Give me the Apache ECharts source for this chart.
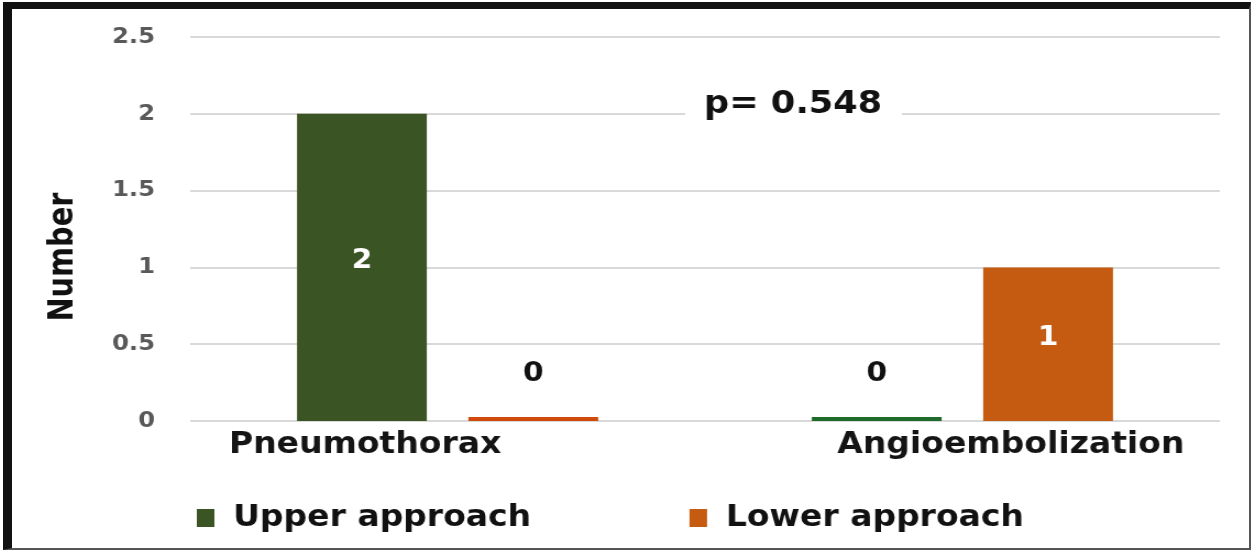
<!DOCTYPE html>
<html>
<head>
<meta charset="utf-8">
<script src="https://cdn.jsdelivr.net/npm/echarts@6/dist/echarts.min.js"></script>
<style>
  html, body { margin: 0; padding: 0; background: #fff; overflow: hidden; }
  #frame {
    position: absolute; left: 3px; top: 2px;
    width: 1248px; height: 548px;
    box-sizing: border-box;
    border-left: 9px solid #111;
    border-top: 7px solid #111;
    border-right: 2px solid #555;
    border-bottom: 2px solid #555;
    background: #fff;
    overflow: hidden;
  }
  /* the plot is drawn slightly narrow and widened to give the wide lettering */
  #chart {
    position: absolute; left: 0; top: 0;
    width: 1124px; height: 539px;
    transform: scaleX(1.1);
    transform-origin: 0 0;
  }
</style>
</head>
<body>
<div id="frame"><div id="chart"></div></div>
<script>
// Complications by approach
const categories = ['Pneumothorax', 'Angioembolization'];
const upperApproach = [2, 0];
const lowerApproach = [0, 1];
const yTicks = [0, 0.5, 1, 1.5, 2, 2.5];
const yTitle = 'Number';
const pValueText = 'p= 0.548';

const GREEN = '#3b5423';
const ORANGE = '#c55a11';
const FONT = '"DejaVu Sans", Verdana, sans-serif';

// category labels sit a little off their group centres
const categoryLabelPadding = [[0, 150, 0, 0], [0, 0, 0, 88]];

function seriesData(values, zeroColor) {
  return values.map(v => v === 0
    ? { value: v, itemStyle: { color: zeroColor },
        label: { position: 'top', distance: 30, offset: [0, 0], color: '#111' } }
    : { value: v });
}

const valueLabel = {
  show: true, position: 'inside', offset: [0, -6],
  fontFamily: FONT, fontWeight: 'bold', fontSize: 27, color: '#fff'
};

const chart = echarts.init(document.getElementById('chart'), null, { renderer: 'canvas' });
chart.setOption({
  animation: false,
  grid: { left: 162, right: 26, top: 28, bottom: 127 },
  legend: {
    bottom: 10, left: 163,
    itemWidth: 16, itemHeight: 18, itemGap: 144,
    icon: 'rect',
    textStyle: { fontFamily: FONT, fontWeight: 'bold', fontSize: 30, color: '#111', padding: [0, 0, 0, 12] },
    data: ['Upper approach', 'Lower approach']
  },
  xAxis: {
    type: 'category',
    data: categories.map((c, i) => ({ value: c, textStyle: { padding: categoryLabelPadding[i] } })),
    axisLine: { show: false },
    axisTick: { show: false },
    axisLabel: { fontFamily: FONT, fontWeight: 'bold', fontSize: 30, color: '#141414', margin: 9 }
  },
  yAxis: {
    type: 'value',
    min: 0, max: yTicks[yTicks.length - 1], interval: 0.5,
    axisLabel: {
      fontFamily: FONT, fontWeight: 'bold', fontSize: 22, color: '#595959', margin: 32,
      formatter: v => String(v)
    },
    splitLine: { lineStyle: { color: '#d9d9d9', width: 2 } }
  },
  series: [
    {
      name: 'Upper approach', type: 'bar',
      data: seriesData(upperApproach, '#1e6b2c'),
      itemStyle: { color: GREEN },
      barWidth: 118, barGap: '32%', barMinHeight: 4,
      label: valueLabel
    },
    {
      name: 'Lower approach', type: 'bar',
      data: seriesData(lowerApproach, '#d04a0c'),
      itemStyle: { color: ORANGE },
      barWidth: 118, barMinHeight: 4,
      label: valueLabel
    }
  ],
  graphic: [
    {
      type: 'text',
      x: 47, y: 248,
      rotation: Math.PI / 2,
      style: {
        text: yTitle,
        font: 'bold 32px "Liberation Sans Narrow", "DejaVu Sans Condensed", sans-serif',
        fill: '#111',
        align: 'center',
        verticalAlign: 'middle'
      }
    },
    {
      type: 'text',
      left: 612, top: 78,
      z: 10,
      style: {
        text: pValueText,
        font: 'bold 32px ' + FONT,
        fill: '#111',
        backgroundColor: '#fff',
        padding: [2, 18, 6, 17]
      }
    }
  ]
});
</script>
</body>
</html>
